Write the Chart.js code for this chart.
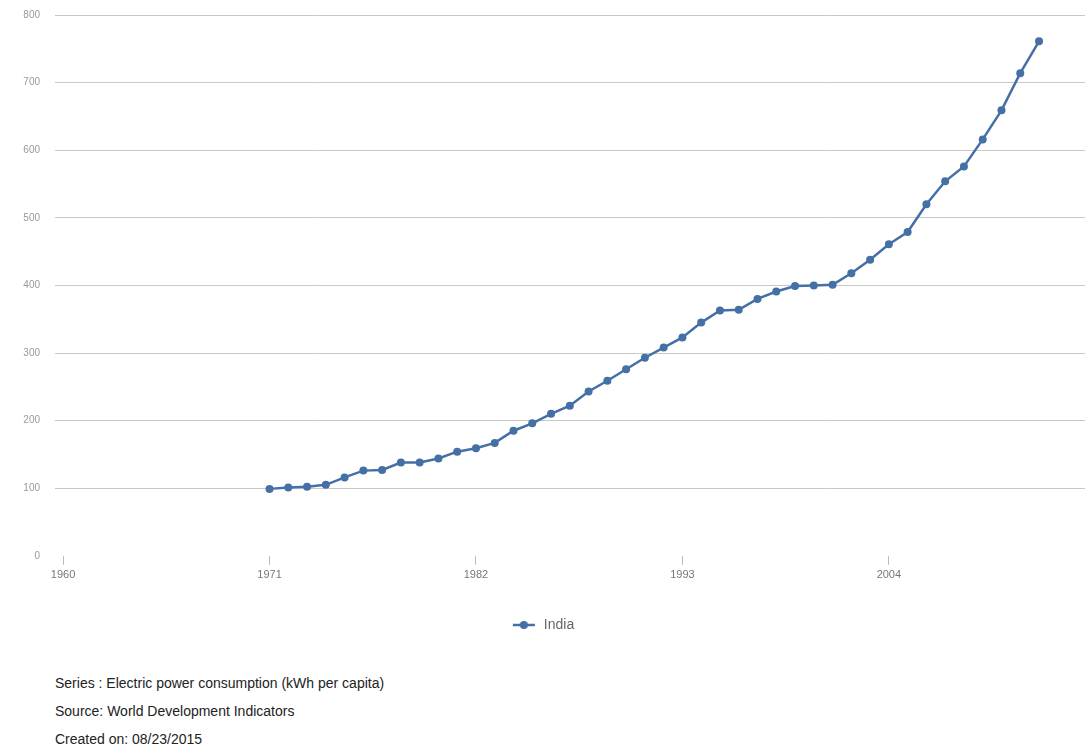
<!DOCTYPE html>
<html>
<head>
<meta charset="utf-8">
<script src="https://cdn.jsdelivr.net/npm/chart.js@4.4.1/dist/chart.umd.min.js"></script>
<style>
  html, body { margin: 0; padding: 0; background: #fff; }
  body { width: 1091px; height: 747px; position: relative; overflow: hidden; font-family: "Liberation Sans", Arial, sans-serif; }
  #chartBox { position: absolute; left: 0; top: -6px; width: 1091px; height: 648px; }
  .note { position: absolute; left: 55px; font-size: 14px; color: #222; }
</style>
</head>
<body>
<div id="chartBox"><canvas id="chart"></canvas></div>
<div class="note" style="top: 675px;">Series : Electric power consumption (kWh per capita)</div>
<div class="note" style="top: 703px;">Source: World Development Indicators</div>
<div class="note" style="top: 731px;">Created on: 08/23/2015</div>
<script>
const years = [];
for (let y = 1971; y <= 2012; y++) years.push(y);

const india = [
  99, 101, 102, 105, 116, 126, 127, 138, 138, 144,
  154, 159, 167, 185, 196, 210, 222, 243, 259, 276,
  293, 308, 323, 345, 363, 364, 380, 391, 399, 400,
  401, 418, 438, 461, 479, 520, 554, 576, 616, 659,
  714, 761
];

const xTicks = [1960, 1971, 1982, 1993, 2004];
const yTicks = [0, 100, 200, 300, 400, 500, 600, 700, 800];

const lineColor = '#4470a5';

// legend marker: short line with a dot
const marker = document.createElement('canvas');
marker.width = 24;
marker.height = 10;
const mctx = marker.getContext('2d');
mctx.strokeStyle = lineColor;
mctx.lineWidth = 2.5;
mctx.beginPath();
mctx.moveTo(1, 5);
mctx.lineTo(23, 5);
mctx.stroke();
mctx.fillStyle = lineColor;
mctx.beginPath();
mctx.arc(12, 5, 4, 0, Math.PI * 2);
mctx.fill();

const ctx = document.getElementById('chart').getContext('2d');
new Chart(ctx, {
  type: 'line',
  data: {
    datasets: [{
      label: 'India',
      data: years.map((y, i) => ({ x: y, y: india[i] })),
      borderColor: lineColor,
      backgroundColor: lineColor,
      borderWidth: 2.5,
      pointRadius: 4,
      pointHoverRadius: 4,
      pointBackgroundColor: lineColor,
      pointBorderWidth: 0,
      tension: 0,
    }]
  },
  options: {
    responsive: true,
    maintainAspectRatio: false,
    animation: false,
    layout: { padding: { top: 6, right: 6, left: 0, bottom: 0 } },
    plugins: {
      tooltip: { enabled: false },
      legend: {
        position: 'bottom',
        labels: {
          usePointStyle: true,
          pointStyle: marker,
          pointStyleWidth: 26,
          color: '#666',
          font: { family: 'Liberation Sans', size: 14 },
          padding: 32,
        }
      }
    },
    scales: {
      x: {
        type: 'linear',
        min: 1959.57,
        max: 2014.45,
        afterBuildTicks: (scale) => { scale.ticks = xTicks.map(v => ({ value: v })); },
        grid: {
          drawOnChartArea: false,
          drawTicks: true,
          tickLength: 9,
          color: '#bbb',
        },
        border: { display: false },
        ticks: {
          color: '#777',
          font: { family: 'Liberation Sans', size: 11 },
          padding: 4,
          maxRotation: 0,
          callback: (v) => String(v),
        }
      },
      y: {
        min: 0,
        max: 800,
        afterBuildTicks: (scale) => { scale.ticks = yTicks.map(v => ({ value: v })); },
        afterFit: (scale) => { scale.width = 55; },
        grid: {
          color: (c) => c.tick && c.tick.value === 0 ? 'rgba(0,0,0,0)' : '#c8c8c8',
          drawTicks: false,
        },
        border: { display: false },
        ticks: {
          color: '#999',
          font: { family: 'Liberation Sans', size: 10 },
          padding: 15,
        }
      }
    }
  }
});
</script>
</body>
</html>
